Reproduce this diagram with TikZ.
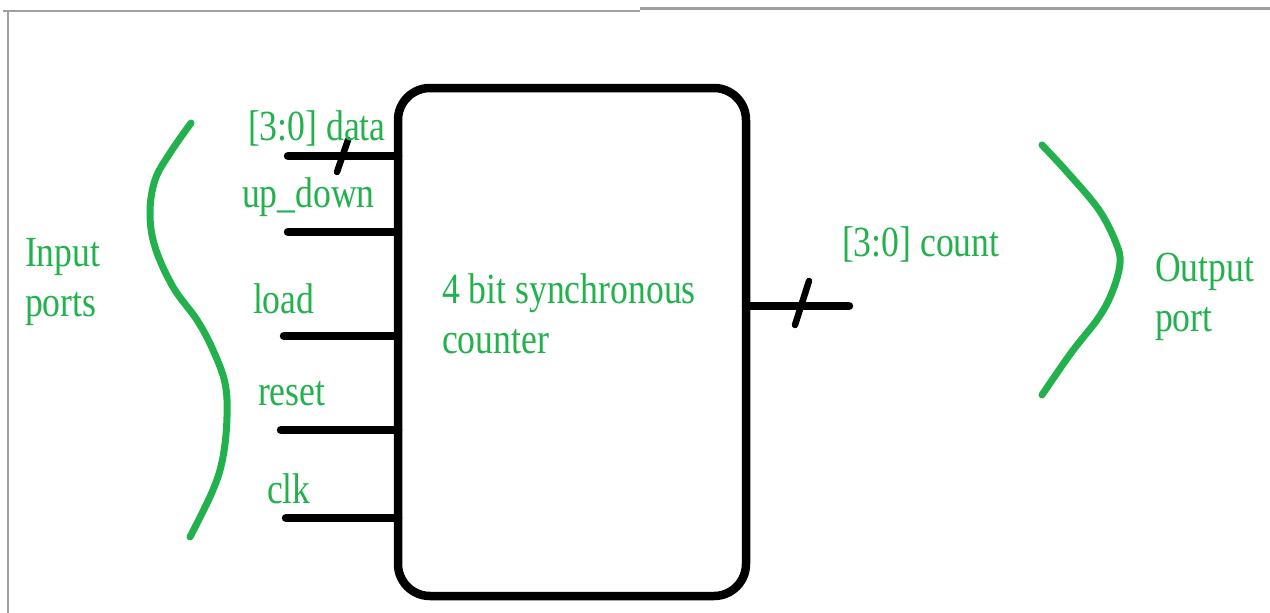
\documentclass[tikz,border=0pt]{standalone}
\usepackage{fontspec}
\setmainfont{Liberation Serif}[FakeStretch=0.83]
\definecolor{pgreen}{HTML}{22B14C}
\definecolor{framegray}{HTML}{A0A0A0}
\tikzset{
  lbl/.style={text=pgreen, inner sep=0pt, outer sep=0pt, anchor=base west, align=left,
              font=\fontsize{43}{50}\selectfont},
  wire/.style={draw=black, line width=8.5pt, line cap=round},
  busmark/.style={draw=black, line width=6.5pt, line cap=round},
  brace/.style={draw=pgreen, line width=7pt, line cap=round},
  framestyle/.style={draw=framegray, line width=2.5pt},
}
\begin{document}
\begin{tikzpicture}[x=1pt,y=-1pt]
\useasboundingbox (0,0) rectangle (1270,613);
% frame
\draw[framestyle] (3,11) -- (640,11);
\draw[framestyle] (640,8.5) -- (1270,8.5);
\draw[framestyle] (8,11) -- (8,613);
% main block
\node[draw=black, line width=8.5pt, rounded corners=32pt, minimum width=348pt,
      minimum height=508pt, inner sep=0pt, outer sep=0pt] (box) at (572,342) {};
% input wires
\coordinate (cdata) at (288,156);
\coordinate (cup) at (288,232);
\coordinate (cload) at (284,336);
\coordinate (creset) at (281,430);
\coordinate (cclk) at (286,518);
\coordinate (cout) at (849,306);
\draw[wire] (cdata) -- (cdata -| box.west);
\draw[wire] (cup) -- (cup -| box.west);
\draw[wire] (cload) -- (cload -| box.west);
\draw[wire] (creset) -- (creset -| box.west);
\draw[wire] (cclk) -- (cclk -| box.west);
\draw[wire] (box.east |- cout) -- (cout);
% bus slashes
\draw[busmark] (337,172) -- (348,140);
\draw[busmark] (795,325) -- (809,281);
% labels
\node[lbl] (ldata) at (248,140) {[3:0] data};
\node[lbl] (lup) at (242,207) {up\_down};
\node[lbl] (lload) at (253,313) {load};
\node[lbl] (lreset) at (258,405) {reset};
\node[lbl] (lclk) at (267,503) {clk};
\node[lbl] (lcount) at (842,256) {[3:0] count};
\node[lbl] (lin) at (25,316) {Input\\ports};
\node[lbl] (lctr) at (442,353) {4 bit synchronous\\counter};
\node[lbl] (lout) at (1155,331) {Output\\port};
% green braces
\draw[brace] plot[smooth, tension=0.6] coordinates {(191,123) (170,153) (155,180) (150,213) (155,247) (173,287) (197,320) (213,350) (225,383) (227,417) (223,457) (213,490) (190,537)};
\draw[brace] plot[smooth, tension=0.6] coordinates {(1042,145) (1068,173) (1099,210) (1116,243) (1120,263) (1113,290) (1099,317) (1071,353) (1042,395)};
\end{tikzpicture}
\end{document}
